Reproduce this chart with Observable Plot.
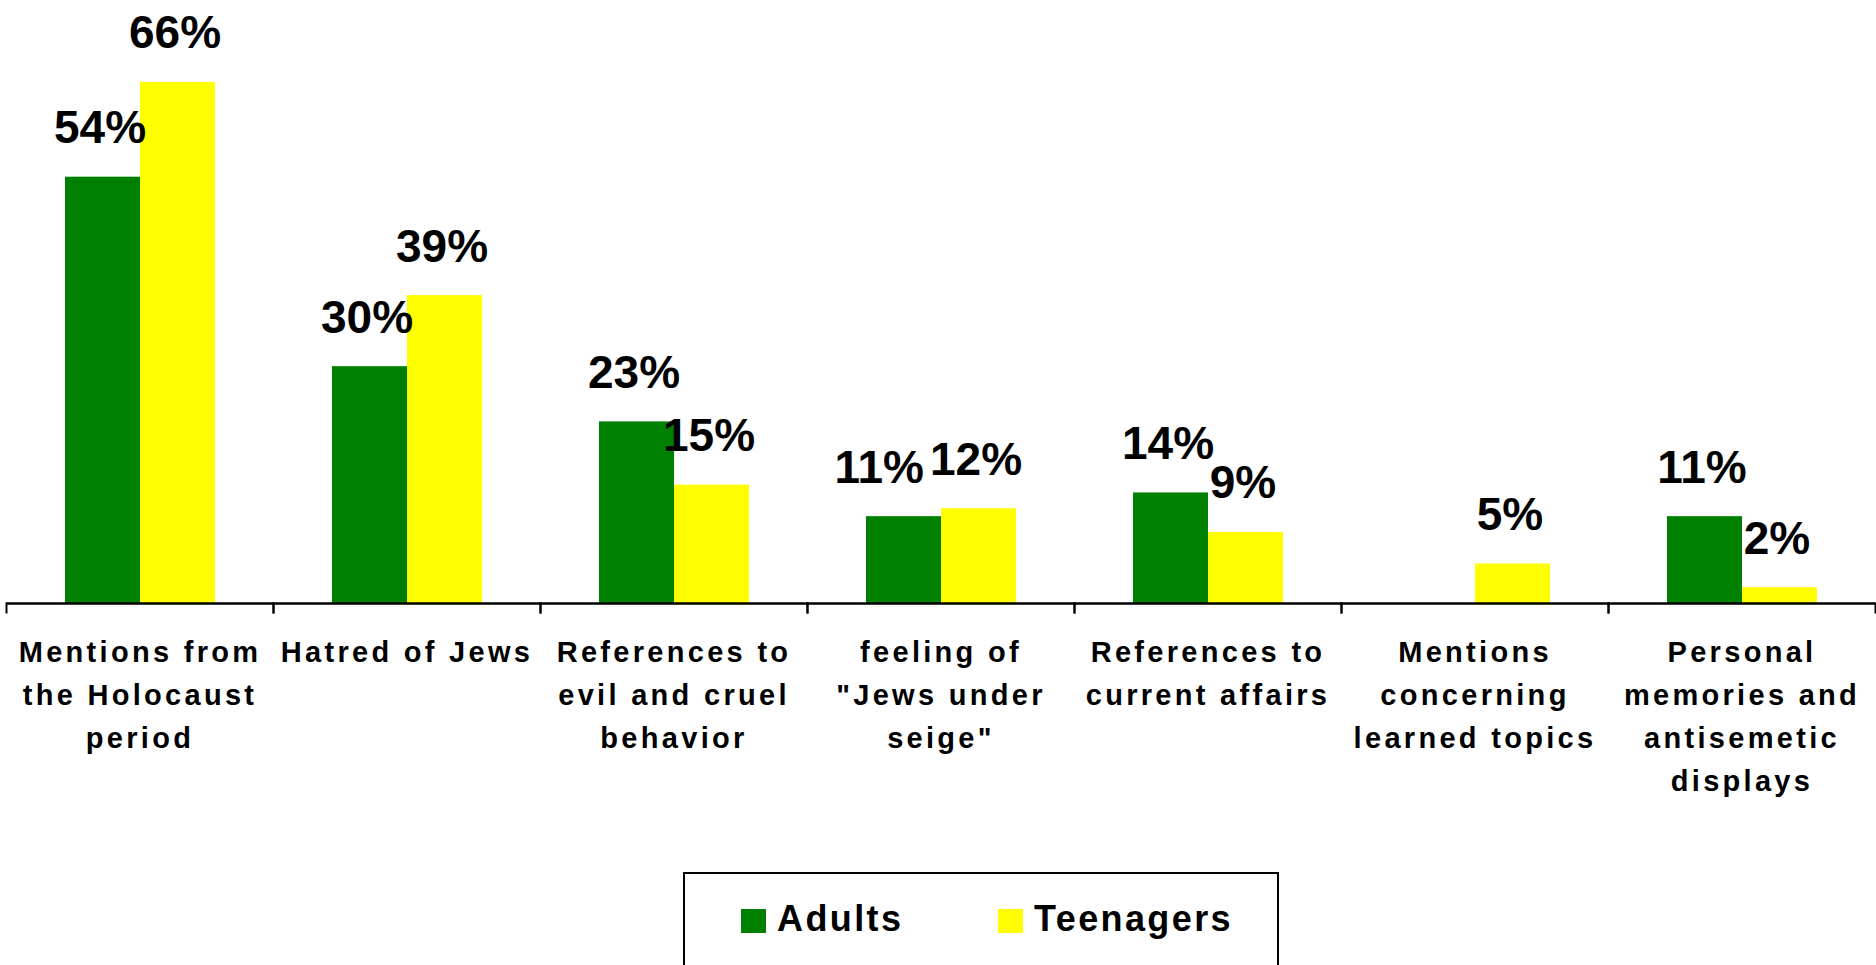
<!DOCTYPE html>
<html>
<head>
<meta charset="utf-8">
<script src="https://cdn.jsdelivr.net/npm/d3@7"></script>
<script src="https://cdn.jsdelivr.net/npm/@observablehq/plot@0.6"></script>
<style>
html, body { margin: 0; padding: 0; background: #fff; overflow: hidden; width: 1876px; height: 965px; }
body { position: relative; font-family: "Liberation Sans", Arial, sans-serif; }
#chart svg { display: block; }
#chart g[aria-label="fx-axis tick label"] text { letter-spacing: 3.3px; }
#legend { position: absolute; left: 683px; top: 872px; width: 596px; height: 140px; border: 2.5px solid #000; box-sizing: border-box; }
.item { position: absolute; top: 27px; display: flex; align-items: flex-start; font-weight: bold; font-size: 36px; line-height: 36px; letter-spacing: 2.4px; color: #000; }
.sw { width: 25px; height: 24px; margin-top: 7.5px; margin-right: 11px; }
</style>
</head>
<body>
<div id="chart"></div>
<div id="legend"></div>
<script>
// ---- data ----
const categories = [
  "Mentions from\nthe Holocaust\nperiod",
  "Hatred of Jews",
  "References to\nevil and cruel\nbehavior",
  "feeling of\n\"Jews under\nseige\"",
  "References to\ncurrent affairs",
  "Mentions\nconcerning\nlearned topics",
  "Personal\nmemories and\nantisemetic\ndisplays"
];
const series = ["Adults", "Teenagers"];
const adults = [54, 30, 23, 11, 14, null, 11];
const teenagers = [66, 39, 15, 12, 9, 5, 2];
const colors = ["#008000", "#FFFF00"];

const values = [adults, teenagers];
const data = [];
categories.forEach((c, i) => {
  series.forEach((s, j) => {
    const v = values[j][i];
    if (v != null) data.push({category: c, series: s, value: v, other: values[1 - j][i]});
  });
});

// labels of adult bars whose neighbour label sits at almost the same height are
// right-aligned so the two labels do not collide (as in the original chart)
const crowded = d => d.series === series[0] && d.other != null && Math.abs(d.value - d.other) < 3;
const normalLabels = data.filter(d => !crowded(d));
const crowdedLabels = data.filter(crowded);

// ---- layout ----
const W = 1876, H = 800, axisY = 603, mt = 3;
const font = '"Liberation Sans", Arial, sans-serif';
const labelStyle = {fontSize: 46, fontWeight: "bold", fill: "black", lineAnchor: "bottom", dy: -34};

const chart = Plot.plot({
  width: W,
  height: H,
  marginTop: mt,
  marginBottom: H - axisY,
  marginLeft: 5,
  marginRight: 0,
  style: {fontFamily: font, background: "white", color: "black", overflow: "visible"},
  fx: {domain: categories, padding: 0},
  x: {domain: series, paddingInner: 0, paddingOuter: 0.76, axis: null},
  y: {domain: [0, 76], axis: null},
  color: {domain: series, range: colors},
  marks: [
    Plot.barY(data, {fx: "category", x: "series", y: "value", fill: "series"}),
    Plot.ruleY([0], {stroke: "black", strokeWidth: 2.5}),
    Plot.frame({anchor: "left", insetTop: axisY - mt, insetBottom: -9, stroke: "black", strokeWidth: 2}),
    Plot.frame({anchor: "right", insetTop: axisY - mt, insetBottom: -9, stroke: "black", strokeWidth: 2}),
    Plot.text(normalLabels, {
      fx: "category", x: "series", y: "value",
      text: d => d.value + "%", dx: -3, ...labelStyle
    }),
    Plot.text(crowdedLabels, {
      fx: "category", x: "series", y: "value",
      text: d => d.value + "%", textAnchor: "end", dx: 20, ...labelStyle
    }),
    Plot.axisFx({
      anchor: "bottom", tickSize: 0, tickPadding: 28, label: null,
      fontSize: 29, fontWeight: "bold", lineHeight: 1.48, fill: "black"
    })
  ]
});
document.getElementById("chart").appendChild(chart);

// ---- legend ----
const legend = document.getElementById("legend");
const lefts = [56, 313];
series.forEach((s, i) => {
  const item = document.createElement("div");
  item.className = "item";
  item.style.left = lefts[i] + "px";
  const sw = document.createElement("div");
  sw.className = "sw";
  sw.style.background = colors[i];
  const t = document.createElement("span");
  t.textContent = s;
  item.appendChild(sw);
  item.appendChild(t);
  legend.appendChild(item);
});
</script>
</body>
</html>
